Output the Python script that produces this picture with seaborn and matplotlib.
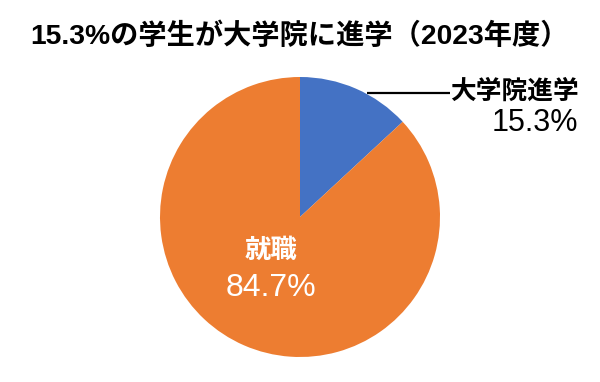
import matplotlib
matplotlib.use("Agg")
import matplotlib.pyplot as plt
import seaborn as sns

categories = ["大学院進学", "就職"]
# slice shares as drawn in the picture (the blue wedge spans about 47 degrees)
values = [13.1, 86.9]
pct_labels = ["15.3%", "84.7%"]
title = "15.3%の学生が大学院に進学（2023年度）"

sns.set_theme(style="white")
plt.rcParams["font.family"] = ["Liberation Sans", "Noto Sans CJK JP"]

colors = ["#4472C4", "#ED7D31"]

fig = plt.figure(figsize=(6, 3.82), dpi=100)
ax = fig.add_axes([160 / 600, (382 - 357) / 382, 280 / 600, 280 / 382])
ax.pie(values, colors=colors, startangle=90, counterclock=False, radius=1,
       wedgeprops=dict(linewidth=0))
ax.set_xlim(-1, 1)
ax.set_ylim(-1, 1)
ax.set_aspect("equal")
ax.axis("off")

def d(px, py):
    return ((px - 300) / 140, (217 - py) / 140)

# leader line for small slice
x0, y0 = d(367, 93)
x1, y1 = d(450, 93)
ax.plot([x0, x1], [y0, y1], color="black", lw=1.6, clip_on=False,
        solid_capstyle="butt")

tx, ty = d(579, 92)
ax.text(tx, ty, categories[0], ha="right", va="center", fontsize=18.5,
        fontweight="bold", color="black", clip_on=False)
tx, ty = d(578, 123)
ax.text(tx, ty, pct_labels[0], ha="right", va="center", fontsize=22,
        color="black", clip_on=False)

tx, ty = d(271, 251)
ax.text(tx, ty, categories[1], ha="center", va="center", fontsize=19,
        fontweight="bold", color="white")
tx, ty = d(271, 288)
ax.text(tx, ty, pct_labels[1], ha="center", va="center", fontsize=23,
        color="white")

fig.text(0.5, 1 - 36 / 382, title, ha="center", va="center", fontsize=20.3,
         fontweight="bold", color="black")

fig.savefig("out.png", dpi=100, facecolor="white")
